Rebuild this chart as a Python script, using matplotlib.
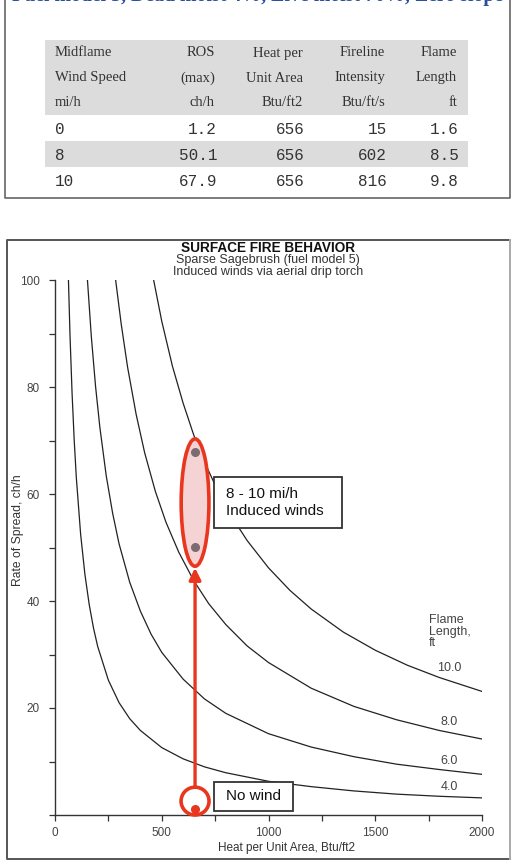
import numpy as np
import matplotlib.pyplot as plt
from matplotlib.patches import Rectangle, Ellipse

# table (top panel)
wind_speed = [0, 8, 10]
ros_max = [1.2, 50.1, 67.9]
heat_area = [656, 656, 656]
fireline_int = [15, 602, 816]
flame_len = [1.6, 8.5, 9.8]
col_heads = [('Midflame', 'Wind Speed', 'mi/h'),
             ('ROS', '(max)', 'ch/h'),
             ('Heat per', 'Unit Area', 'Btu/ft2'),
             ('Fireline', 'Intensity', 'Btu/ft/s'),
             ('Flame', 'Length', 'ft')]

# flame length isolines
fl_labels = ['4.0', '6.0', '8.0', '10.0']
hpa_4 = [63, 70, 80, 90, 100, 120, 140, 160, 180, 200, 250, 300, 350, 400, 500,
         600, 700, 800, 1000, 1200, 1400, 1600, 1800, 2000]
ros_4 = [100, 90, 78.8, 70, 63, 52.5, 45, 39.4, 35, 31.5, 25.2, 21, 18, 15.8, 12.6,
         10.5, 9, 7.9, 6.3, 5.3, 4.5, 3.9, 3.5, 3.2]
hpa_6 = [152, 170, 190, 210, 240, 270, 300, 350, 400, 450, 500, 600, 700, 800,
         1000, 1200, 1400, 1600, 1800, 2000]
ros_6 = [100, 89.5, 80.1, 72.5, 63.4, 56.4, 50.7, 43.5, 38.1, 33.8, 30.4, 25.4,
         21.7, 19, 15.2, 12.7, 10.9, 9.5, 8.5, 7.6]
hpa_8 = [284, 310, 340, 380, 420, 470, 520, 580, 650, 720, 800, 900, 1000, 1200,
         1400, 1600, 1800, 2000]
ros_8 = [100, 91.8, 83.7, 74.9, 67.7, 60.5, 54.7, 49.1, 43.8, 39.5, 35.6, 31.6,
         28.5, 23.7, 20.3, 17.8, 15.8, 14.2]
hpa_10 = [462, 500, 550, 600, 650, 700, 760, 830, 900, 1000, 1100, 1200, 1350,
          1500, 1650, 1800, 2000]
ros_10 = [100, 92.3, 83.9, 77, 71, 66, 60.8, 55.6, 51.3, 46.2, 42, 38.5, 34.2,
          30.8, 28, 25.7, 23.1]
label_ros = [5.2, 10.1, 17.4, 27.5]

SANS = 'Liberation Sans'
RED = '#e8361f'

fig = plt.figure(figsize=(5.16, 8.64), dpi=100)
fig.patch.set_facecolor('white')

# pixel-space layer for the table and frames
lay = fig.add_axes([0, 0, 1, 1], zorder=0)
lay.set_xlim(0, 516)
lay.set_ylim(864, 0)
lay.axis('off')

# heading of the table, cut by the top edge as in the source
lay.text(258, 1.5, 'Fuel model 5, Dead moist 4%, Live moist 70%, Zero slope',
         ha='center', va='baseline', fontsize=14.3, fontweight='bold',
         family='Liberation Serif', color='#2b4f9e', clip_on=False)
lay.plot([5, 5, 510, 510], [0, 198, 198, 0], color='#666666', lw=1.2)

# table backgrounds
lay.add_patch(Rectangle((45, 40), 423, 75, color='#dcdcdc', lw=0))
lay.add_patch(Rectangle((45, 141), 423, 26, color='#dcdcdc', lw=0))

col_x = [55, 215, 303, 385, 457]
head_y = [53, 78, 103]
for j, heads in enumerate(col_heads):
    for k, h in enumerate(heads):
        lay.text(col_x[j], head_y[k], h, ha='left' if j == 0 else 'right',
                 va='center', fontsize=10.5, family='Liberation Serif', color='#333333')

row_y = [129, 155, 181]
for i in range(len(wind_speed)):
    vals = [str(wind_speed[i]), f'{ros_max[i]:.1f}', str(heat_area[i]),
            str(fireline_int[i]), f'{flame_len[i]:.1f}']
    for j, v in enumerate(vals):
        lay.text(col_x[j] + (0 if j == 0 else 2), row_y[i], v,
                 ha='left' if j == 0 else 'right', va='center', fontsize=11.5,
                 family='Liberation Mono', color='#333333')

# chart frame
lay.plot([510, 7, 7, 510], [240, 240, 859, 859], color='#555555', lw=1.4)
lay.plot([510, 510], [240, 859], color='#aaaaaa', lw=1.4)

lay.text(268, 248, 'SURFACE FIRE BEHAVIOR', ha='center', va='center',
         fontsize=9.8, fontweight='bold', family=SANS, color='#111111')
lay.text(268, 260, 'Sparse Sagebrush (fuel model 5)', ha='center', va='center',
         fontsize=9, family=SANS, color='#333333')
lay.text(268, 272, 'Induced winds via aerial drip torch', ha='center', va='center',
         fontsize=9, family=SANS, color='#333333')

# main chart
ax = fig.add_axes([55 / 516, 49 / 864, 427 / 516, 535 / 864], zorder=1)
ax.patch.set_alpha(0)
ax.set_xlim(0, 2000)
ax.set_ylim(0, 100)
for s in ['top', 'right']:
    ax.spines[s].set_visible(False)
for s in ['left', 'bottom']:
    ax.spines[s].set_color('#333333')
    ax.spines[s].set_linewidth(1.0)

ax.set_xticks([0, 500, 1000, 1500, 2000])
ax.set_xticks(np.arange(250, 2000, 500), minor=True)
ax.set_yticks([20, 40, 60, 80, 100])
ax.set_yticks([0, 10, 30, 50, 70, 90], minor=True)
ax.tick_params(which='both', direction='out', length=4, width=0.9, color='#333333',
               labelsize=8.5, labelcolor='#444444')
ax.tick_params(axis='x', pad=5)
ax.tick_params(axis='y', pad=7)
for lb in ax.get_xticklabels() + ax.get_yticklabels():
    lb.set_family(SANS)

ax.set_xlabel('Heat per Unit Area, Btu/ft2', fontsize=8.5, family=SANS, color='#333333')
ax.xaxis.set_label_coords(0.541, -0.05)
ax.set_ylabel('Rate of Spread, ch/h', fontsize=8.7, family=SANS, color='#333333')
ax.yaxis.set_label_coords(-0.073, 0.533)

curves = [(hpa_4, ros_4), (hpa_6, ros_6), (hpa_8, ros_8), (hpa_10, ros_10)]
for (hx, ry), lab, ly in zip(curves, fl_labels, label_ros):
    ax.plot(hx, ry, color='#222222', lw=0.9)
    ax.text(1845, ly, lab, ha='center', va='center', fontsize=9, family=SANS,
            color='#444444')
ax.text(1750, 37.5, 'Flame\nLength,\nft', ha='left', va='top', fontsize=9,
        family=SANS, color='#444444', linespacing=0.92)

# annotation shapes
ax.add_patch(Ellipse((heat_area[1], 58.4), 130, 23.8, facecolor='#f5d3d5',
                     edgecolor=RED, lw=2.6, zorder=3))
ax.add_patch(Ellipse((heat_area[0], 2.6), 131, 5.2, facecolor='none',
                     edgecolor=RED, lw=2.6, zorder=3, clip_on=False))
ax.annotate('', xy=(heat_area[1], 46.2), xytext=(heat_area[0], 5.3),
            arrowprops=dict(arrowstyle='-|>,head_length=0.7,head_width=0.35',
                            color=RED, lw=2.4, shrinkA=0, shrinkB=0), zorder=3)
ax.plot(heat_area[1:], ros_max[1:], 'o', color='#7d6b73', ms=5.5, zorder=4)
ax.plot(heat_area[:1], ros_max[:1], 'o', color=RED, ms=5.5, zorder=4, clip_on=False)

ax.add_patch(Rectangle((744, 53.6), 599, 9.6, facecolor='white',
                       edgecolor='#333333', lw=1.3, zorder=3))
ax.text(800, 58.4, '8 - 10 mi/h\nInduced winds', ha='left', va='center',
        fontsize=11, family=SANS, color='#111111', linespacing=1.25, zorder=4)
ax.add_patch(Rectangle((744, 0.75), 370, 5.45, facecolor='white',
                       edgecolor='#333333', lw=1.3, zorder=3))
ax.text(929, 3.5, 'No wind', ha='center', va='center', fontsize=11, family=SANS,
        color='#111111', zorder=4)

fig.savefig('out.png', dpi=100)
